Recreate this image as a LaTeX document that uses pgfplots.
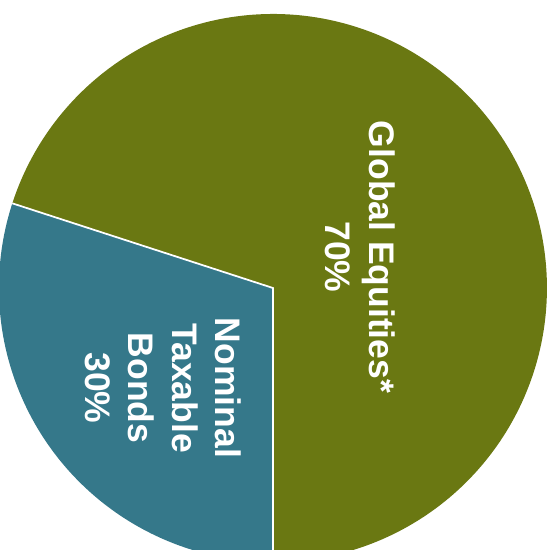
\documentclass[border=0pt]{standalone}
\usepackage{fontspec}
\setmainfont{Liberation Sans}
\usepackage{pgfplots}
\pgfplotsset{compat=1.18}
\definecolor{eqgreen}{RGB}{106,120,18}
\definecolor{bondblue}{RGB}{53,120,138}
\begin{document}
\begin{tikzpicture}
% shares (percent)
\def\eqval{70}
\def\bondval{30}
\pgfmathsetmacro{\split}{270-\bondval*3.6}
\begin{axis}[
  x=2.74cm, y=2.74cm,
  scale only axis,
  xmin=-0.996, xmax=1.022,
  ymin=-0.956, ymax=1.051,
  axis lines=none,
  ticks=none,
  clip=true,
]
\addplot[fill=eqgreen, draw=none, domain=-90:\split, samples=240, variable=\t]
  ({cos(\t)}, {sin(\t)}) -- (axis cs:0,0) -- cycle;
\addplot[fill=bondblue, draw=none, domain=\split:270, samples=120, variable=\t]
  ({cos(\t)}, {sin(\t)}) -- (axis cs:0,0) -- cycle;
\addplot[white, line width=0.5pt] coordinates {(-0.9511,0.3090) (0,0) (0,-1)};
\node[rotate=-90, align=center, text=white, font=\bfseries\fontsize{10.1}{12.4}\selectfont]
  at (axis cs:0.318,0.113) {Global Equities*\\70\%};
\node[rotate=-90, align=center, text=white, font=\bfseries\fontsize{10.1}{12.4}\selectfont]
  at (axis cs:-0.401,-0.365) {Nominal\\Taxable\\Bonds\\30\%};
\end{axis}
\path (current axis.south west) rectangle (current axis.north east);
\end{tikzpicture}
\end{document}
